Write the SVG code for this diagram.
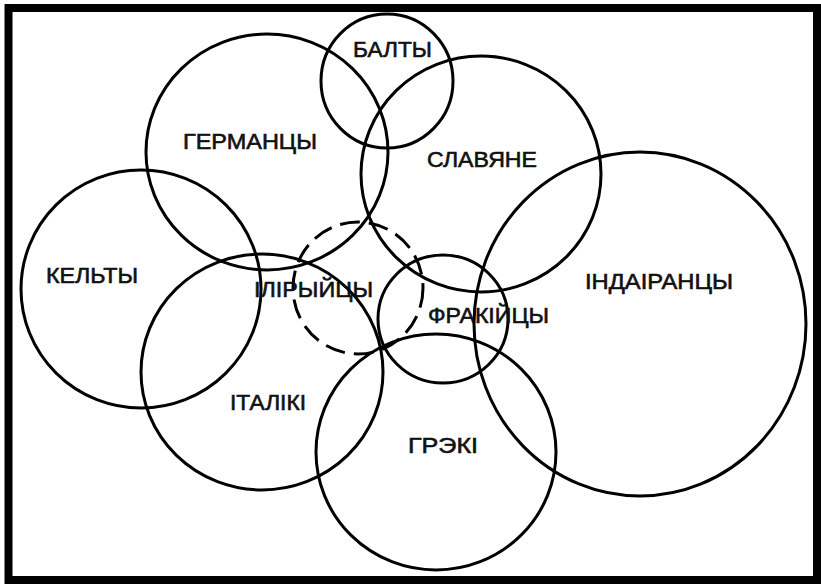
<svg xmlns="http://www.w3.org/2000/svg" width="821" height="584" viewBox="0 0 821 584">
  <style>
    .c { fill: none; stroke: #000; stroke-width: 3; }
    .d { stroke-dasharray: 20 9; }
    .t { font-family: "Liberation Sans", Arial, sans-serif; font-size: 22px; fill: #111; stroke: #111; stroke-width: 0.6; text-anchor: middle; }
  </style>
  <rect x="0" y="0" width="821" height="584" fill="#fff"/>
  <rect x="8.5" y="8" width="808.5" height="572" fill="none" stroke="#000" stroke-width="8"/>
  <g id="baltic">
    <ellipse class="c" cx="387" cy="81" rx="66" ry="67"/>
    <text class="t" x="392.5" y="57" textLength="79" lengthAdjust="spacingAndGlyphs">БАЛТЫ</text>
  </g>
  <g id="germanic">
    <ellipse class="c" cx="267" cy="152" rx="121" ry="118"/>
    <text class="t" x="250" y="149" textLength="134" lengthAdjust="spacingAndGlyphs">ГЕРМАНЦЫ</text>
  </g>
  <g id="slavic">
    <ellipse class="c" cx="481" cy="174" rx="120" ry="118"/>
    <text class="t" x="482" y="167" textLength="110" lengthAdjust="spacingAndGlyphs">СЛАВЯНЕ</text>
  </g>
  <g id="celtic">
    <ellipse class="c" cx="141" cy="289" rx="120" ry="119"/>
    <text class="t" x="92" y="283" textLength="92" lengthAdjust="spacingAndGlyphs">КЕЛЬТЫ</text>
  </g>
  <g id="illyrian">
    <ellipse class="c d" cx="358" cy="288" rx="65" ry="66"/>
    <text class="t" x="313.5" y="297" textLength="119" lengthAdjust="spacingAndGlyphs">ІЛІРЫЙЦЫ</text>
  </g>
  <g id="italic">
    <ellipse class="c" cx="262" cy="372" rx="121" ry="118"/>
    <text class="t" x="268" y="410" textLength="76" lengthAdjust="spacingAndGlyphs">ІТАЛІКІ</text>
  </g>
  <g id="thracian">
    <ellipse class="c" cx="443" cy="319" rx="65" ry="64"/>
    <text class="t" x="488.5" y="323" textLength="121" lengthAdjust="spacingAndGlyphs">ФРАКІЙЦЫ</text>
  </g>
  <g id="greek">
    <ellipse class="c" cx="436" cy="452" rx="120" ry="118"/>
    <text class="t" x="443" y="453" textLength="70" lengthAdjust="spacingAndGlyphs">ГРЭКІ</text>
  </g>
  <g id="indoiranian">
    <ellipse class="c" cx="640" cy="324" rx="166" ry="172"/>
    <text class="t" x="659" y="289" textLength="148" lengthAdjust="spacingAndGlyphs">ІНДАІРАНЦЫ</text>
  </g>
</svg>
